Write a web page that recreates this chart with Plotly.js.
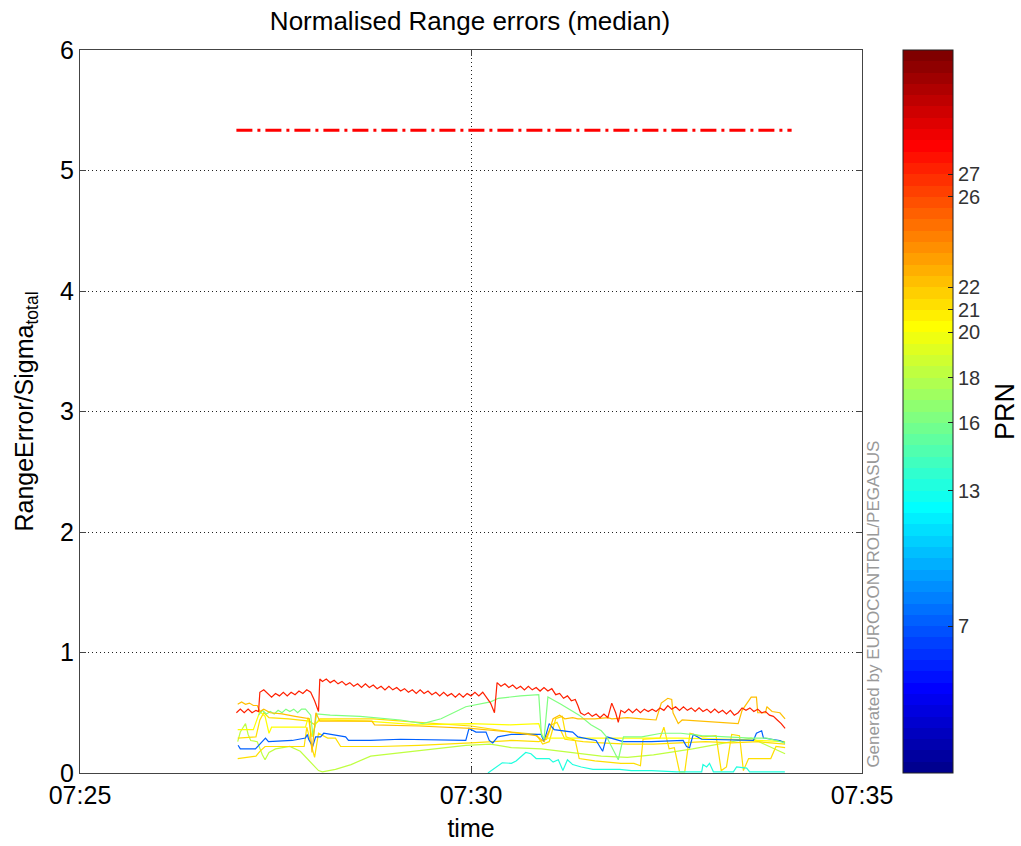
<!DOCTYPE html>
<html>
<head>
<meta charset="utf-8">
<script src="https://cdn.plot.ly/plotly-3.0.1.min.js"></script>
<style>html,body{margin:0;padding:0;background:#fff;}#chart{width:1021px;height:846px;}</style>
</head>
<body>
<div id="chart"></div>
<script>
// time in seconds after 07:25:00
const xTickVals = [0, 300, 600];
const xTickText = ["07:25", "07:30", "07:35"];
const prnTicks = [7, 13, 16, 18, 20, 21, 22, 26, 27];

// threshold (dash-dot)
const thrT = [120, 546];
const thrV = [5.335, 5.335];

// PRN 27 (red)
const t27 = [120,123,126,129,132,135,137,138,141,144,147,150,153,156,159,162,165,168,171,174,177,180,183,184,186,189,192,195,198,201,204,207,210,213,216,219,222,225,228,231,234,237,240,243,246,249,252,255,258,261,264,267,270,273,276,279,282,285,288,291,294,297,300,303,306,309,312,315,318,320,323,326,329,332,335,338,341,344,347,350,353,356,359,362,365,368,371,374,377,380,382,384,387,390,393,396,399,402,405,408,411,413,415,418,421,424,427,430,433,436,439,442,445,448,451,454,457,460,463,466,469,472,475,478,481,484,487,490,493,496,499,502,505,508,511,514,517,520,523,526,529,532,535,538,541];
const v27 = [0.50,0.53,0.50,0.53,0.50,0.52,0.51,0.67,0.69,0.66,0.63,0.66,0.64,0.67,0.64,0.67,0.65,0.68,0.66,0.69,0.67,0.60,0.51,0.78,0.76,0.78,0.75,0.77,0.74,0.76,0.73,0.75,0.72,0.74,0.71,0.74,0.71,0.73,0.70,0.72,0.69,0.72,0.69,0.71,0.68,0.70,0.67,0.69,0.66,0.69,0.66,0.68,0.65,0.67,0.64,0.67,0.64,0.66,0.63,0.66,0.63,0.66,0.64,0.67,0.64,0.67,0.62,0.58,0.50,0.75,0.72,0.74,0.71,0.73,0.70,0.72,0.69,0.72,0.69,0.71,0.68,0.71,0.68,0.70,0.65,0.66,0.62,0.64,0.60,0.61,0.56,0.50,0.48,0.50,0.47,0.49,0.46,0.49,0.46,0.58,0.50,0.42,0.52,0.50,0.53,0.50,0.53,0.50,0.53,0.51,0.53,0.51,0.54,0.52,0.56,0.53,0.55,0.52,0.55,0.52,0.54,0.51,0.54,0.51,0.53,0.50,0.53,0.50,0.52,0.49,0.52,0.48,0.50,0.54,0.52,0.54,0.51,0.53,0.50,0.51,0.48,0.47,0.44,0.41,0.37];

// PRN 22 (orange)
const t22 = [121,124,127,130,133,136,138,141,146,155,165,176,178,181,184,200,224,226,260,300,330,350,356,360,363,368,372,378,382,395,405,408,420,431,442,446,451,454,455,459,462,505,508,515,519,520,526,527,531,537,541];
const v22 = [0.57,0.59,0.57,0.58,0.56,0.56,0.51,0.53,0.50,0.49,0.47,0.45,0.17,0.50,0.43,0.43,0.43,0.40,0.39,0.37,0.34,0.31,0.26,0.35,0.45,0.48,0.45,0.46,0.45,0.45,0.46,0.45,0.46,0.45,0.44,0.58,0.62,0.61,0.50,0.41,0.44,0.41,0.52,0.63,0.63,0.50,0.50,0.55,0.51,0.50,0.45];

// PRN 20 (yellow)
const t20 = [121,133,138,142,145,147,173,175,178,181,184,220,260,300,330,352,355,358,380,420,460,500,541];
const v20 = [0.36,0.36,0.51,0.47,0.33,0.38,0.38,0.46,0.30,0.41,0.44,0.43,0.40,0.41,0.40,0.41,0.30,0.29,0.29,0.29,0.29,0.28,0.26];

// PRN 21 (yellow-orange)
const t21 = [121,135,138,141,145,160,176,180,184,225,260,300,331,350,355,360,365,370,373,380,383,395,405,415,425,430,432,445,448,452,456,460,464,468,478,488,492,496,500,506,509,513,520,530,534,541];
const v21 = [0.29,0.30,0.44,0.50,0.46,0.45,0.43,0.40,0.45,0.45,0.42,0.39,0.34,0.32,0.24,0.26,0.45,0.47,0.30,0.27,0.12,0.10,0.09,0.08,0.08,0.06,0.28,0.29,0.38,0.20,0.21,0.01,0.01,0.33,0.30,0.31,0.02,0.05,0.32,0.31,0.02,0.12,0.12,0.12,0.22,0.21];

// PRN 26 (low line at start)
const t26 = [121,135,138,142,172,174,177,180,183,190,196,200,230,260,300,331,352,358,362,366,372,386,400,420,440,460,480,500,520,541];
const v26 = [0.12,0.14,0.18,0.22,0.22,0.38,0.25,0.13,0.33,0.29,0.29,0.22,0.22,0.23,0.25,0.27,0.26,0.28,0.40,0.42,0.28,0.26,0.25,0.24,0.24,0.25,0.26,0.25,0.26,0.24];

// PRN 18 (yellow-green)
const t18 = [121,123,127,129,131,136,140,142,145,150,161,169,183,186,196,208,223,246,277,296,315,331,354,378,400,420,440,470,500,515,541];
const v18 = [0.26,0.34,0.41,0.32,0.27,0.26,0.15,0.11,0.17,0.20,0.22,0.18,0.02,0.01,0.03,0.07,0.14,0.17,0.21,0.23,0.24,0.21,0.20,0.17,0.14,0.13,0.15,0.20,0.26,0.29,0.16];

// PRN 16 (green)
const t16 = [137,140,143,146,149,152,155,158,161,164,167,170,173,177,178.5,179,181.5,192,215,246,263,277,296,315,321,338,352,354,356,359,369,383,392,400,404,413,417,431,446,461,477,492,515,527,541];
const v16 = [0.48,0.52,0.49,0.51,0.49,0.52,0.50,0.53,0.51,0.53,0.50,0.53,0.53,0.48,0.33,0.30,0.49,0.48,0.47,0.44,0.41,0.45,0.55,0.59,0.62,0.64,0.65,0.32,0.28,0.63,0.57,0.48,0.40,0.35,0.30,0.11,0.30,0.30,0.33,0.33,0.31,0.30,0.29,0.29,0.25];

// PRN 13 (cyan)
const t13 = [313,321.5,324,331,334.6,342,346,350,360,363,367,370.5,374,378,384.6,393.6,414,423,438.5,458,477,478,480.8,483,486,501.3,503.8,511.5,513.8,540.8];
const v13 = [0.00,0.07,0.085,0.08,0.10,0.17,0.16,0.12,0.12,0.09,0.11,0.02,0.11,0.07,0.05,0.03,0.03,0.02,0.02,0.01,0.01,0.07,0.05,0.08,0.01,0.01,0.05,0.04,0.01,0.01];

// PRN 7 (blue)
const t7 = [121.3,123,134.6,137,142.3,144.6,162.8,173,174.4,175.4,178.5,180.8,184.6,187,203.8,206,223,246,296,298.5,303.8,311.5,314,316.7,320.5,330.8,353.8,356,360,363.8,378,382,396,401,404,416.7,438.5,462.8,465.4,467.7,470.5,477,516.7,519,523,524.4,536.9,540.8];
const v7 = [0.23,0.20,0.20,0.23,0.29,0.26,0.27,0.29,0.32,0.28,0.22,0.30,0.30,0.33,0.30,0.27,0.27,0.28,0.27,0.37,0.34,0.34,0.27,0.25,0.30,0.32,0.32,0.26,0.41,0.36,0.34,0.30,0.27,0.18,0.30,0.26,0.26,0.27,0.22,0.21,0.32,0.28,0.27,0.33,0.35,0.29,0.27,0.25];

// ---- jet colormap (MATLAB style, 64 levels) ----
const NC = 64, CMIN = 0.5, CMAX = 32.5;
function jetRow(k) { // k = 1..64
  const n = 16;
  function u(j) {
    if (j < 1 || j > 47) return 0;
    if (j <= 16) return j / n;
    if (j <= 31) return 1;
    return (48 - j) / n;
  }
  const r = u(k - 24), g = u(k - 8), b = u(k + 8);
  return 'rgb(' + Math.round(r*255) + ',' + Math.round(g*255) + ',' + Math.round(b*255) + ')';
}
function prnColor(p) {
  let k = Math.floor((p - CMIN) / (CMAX - CMIN) * NC) + 1;
  k = Math.max(1, Math.min(NC, k));
  return jetRow(k);
}
const cscale = [];
for (let k = 1; k <= NC; k++) {
  cscale.push([(k - 1) / NC, jetRow(k)]);
  cscale.push([k / NC, jetRow(k)]);
}

const series = [
  {p: 18, t: t18, v: v18},
  {p: 26, t: t26, v: v26},
  {p: 21, t: t21, v: v21},
  {p: 20, t: t20, v: v20},
  {p: 13, t: t13, v: v13},
  {p: 7,  t: t7,  v: v7},
  {p: 16, t: t16, v: v16},
  {p: 22, t: t22, v: v22},
  {p: 27, t: t27, v: v27}
];
const colorOverride = {26: prnColor(21)};

const traces = series.map(s => ({
  type: 'scatter', mode: 'lines', x: s.t, y: s.v,
  line: {color: colorOverride[s.p] || prnColor(s.p), width: 1.2},
  hoverinfo: 'skip', showlegend: false
}));

traces.push({
  type: 'scatter', mode: 'lines', x: thrT, y: thrV,
  line: {color: 'rgb(255,0,0)', width: 3, dash: '16px,5px,3px,5px'},
  showlegend: false, hoverinfo: 'skip'
});

const F = 'Liberation Sans, Arial, sans-serif';

// colorbar carrier
traces.push({
  type: 'scatter', mode: 'markers', x: [-1000], y: [-1000],
  marker: {
    color: [CMIN], cmin: CMIN, cmax: CMAX, colorscale: cscale, showscale: true, size: 1,
    colorbar: {
      x: (903 - 80) / 782, xanchor: 'left', xref: 'paper',
      y: 0.5, yanchor: 'middle', len: 1.0, lenmode: 'fraction',
      thickness: 50, thicknessmode: 'pixels', xpad: 0, ypad: 0,
      outlinecolor: '#222', outlinewidth: 1,
      tickvals: prnTicks, ticktext: prnTicks.map(String),
      ticks: 'inside', ticklen: 5, tickcolor: '#222', tickwidth: 1,
      tickfont: {family: F, size: 20, color: '#333'}
    }
  },
  showlegend: false, hoverinfo: 'skip'
});

const layout = {
  width: 1021, height: 846,
  margin: {l: 80, r: 159, t: 50, b: 73, pad: 0},
  paper_bgcolor: '#fff', plot_bgcolor: '#fff',
  font: {family: F, color: '#000'},
  title: {text: 'Normalised Range errors (median)', x: 470 / 1021, xanchor: 'center', y: 1 - 21 / 846, yanchor: 'middle',
          font: {family: F, size: 26, color: '#000'}},
  xaxis: {
    range: [0, 600], tickvals: xTickVals, ticktext: xTickText,
    showgrid: true, gridcolor: '#222', griddash: '1px,3px', gridwidth: 1,
    showline: true, linecolor: '#444', linewidth: 1, mirror: 'ticks',
    ticks: 'inside', ticklen: 6, tickcolor: '#444',
    tickfont: {family: F, size: 25, color: '#000'}, zeroline: false,
    title: {text: 'time', font: {family: F, size: 25, color: '#000'}, standoff: 11}
  },
  yaxis: {
    range: [0, 6], dtick: 1, tick0: 0,
    showgrid: true, gridcolor: '#222', griddash: '1px,3px', gridwidth: 1,
    showline: true, linecolor: '#444', linewidth: 1, mirror: 'ticks',
    ticks: 'inside', ticklen: 6, tickcolor: '#444',
    tickfont: {family: F, size: 25, color: '#000'}, zeroline: false,
    title: {text: 'RangeError/Sigma<sub>total</sub>', font: {family: F, size: 25, color: '#000'}, standoff: 19}
  },
  annotations: [{
    text: 'Generated by EUROCONTROL/PEGASUS', xref: 'paper', yref: 'paper',
    x: (874 - 80) / 782, y: 0.004, xanchor: 'center', yanchor: 'bottom',
    textangle: -90, showarrow: false,
    font: {family: F, size: 17, color: '#999'}
  }, {
    text: 'PRN', xref: 'paper', yref: 'paper',
    x: (1005 - 80) / 782, y: (773 - 412) / 723, xanchor: 'center', yanchor: 'middle',
    textangle: -90, showarrow: false,
    font: {family: F, size: 27, color: '#000'}
  }]
};

Plotly.newPlot('chart', traces, layout, {displayModeBar: false, staticPlot: true});
</script>
</body>
</html>
